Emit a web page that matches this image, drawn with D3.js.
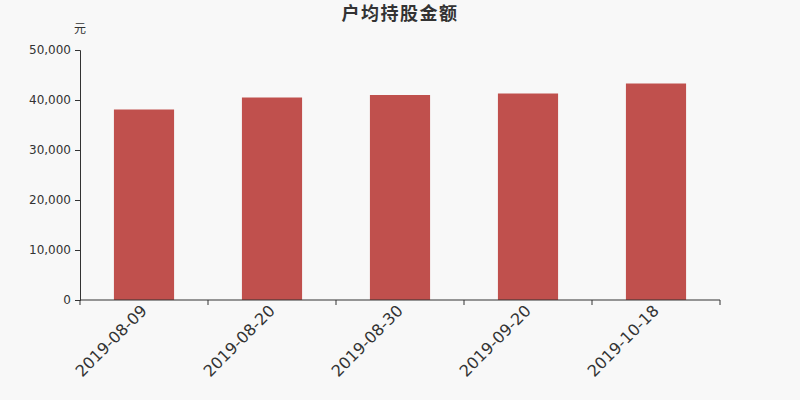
<!DOCTYPE html>
<html>
<head>
<meta charset="utf-8">
<script src="https://cdn.jsdelivr.net/npm/d3@7/dist/d3.min.js"></script>
<style>
  body { margin: 0; background: #f8f8f8; }
  text { font-family: "DejaVu Sans", "Noto Sans CJK SC", sans-serif; }
</style>
</head>
<body>
<div id="chart"></div>
<script>
var categories = ['2019-08-09', '2019-08-20', '2019-08-30', '2019-09-20', '2019-10-18'];
var values = [38100, 40500, 41000, 41300, 43300];
var yTicks = [0, 10000, 20000, 30000, 40000, 50000];

var width = 800, height = 400;
var margin = { top: 50, right: 80, bottom: 100, left: 80 };

var svg = d3.select('#chart').append('svg')
    .attr('width', width)
    .attr('height', height);

svg.append('rect').attr('width', width).attr('height', height).attr('fill', '#f8f8f8');

var x = d3.scaleBand()
    .domain(categories)
    .range([margin.left, width - margin.right])
    .paddingInner(0.53)
    .paddingOuter(0.265);

var xTicks = d3.scaleBand().domain(categories).range([margin.left, width - margin.right]);

var y = d3.scaleLinear()
    .domain([0, 50000])
    .range([height - margin.bottom, margin.top]);

var fmt = d3.format(',');

// bars
svg.append('g').selectAll('rect')
    .data(values)
    .enter().append('rect')
    .attr('x', function (d, i) { return x(categories[i]); })
    .attr('y', function (d) { return y(d); })
    .attr('width', x.bandwidth())
    .attr('height', function (d) { return y(0) - y(d); })
    .attr('fill', '#c0504d');

// y axis
var yAxis = svg.append('g')
    .attr('transform', 'translate(' + margin.left + ',0)')
    .call(d3.axisLeft(y).tickValues(yTicks).tickFormat(fmt).tickSize(5).tickPadding(4));
yAxis.select('.domain').attr('stroke', '#333');
yAxis.selectAll('.tick line').attr('stroke', '#333');
yAxis.selectAll('text').attr('fill', '#333').style('font-size', '12px');

// x axis
var xAxis = svg.append('g')
    .attr('transform', 'translate(0,' + y(0) + ')');
xAxis.append('line')
    .attr('x1', margin.left).attr('x2', width - margin.right)
    .attr('stroke', '#333');
var edges = categories.map(function (c) { return xTicks(c); }).concat([width - margin.right]);
xAxis.selectAll('line.tk')
    .data(edges)
    .enter().append('line')
    .attr('class', 'tk')
    .attr('x1', function (d) { return d; }).attr('x2', function (d) { return d; })
    .attr('y1', 0).attr('y2', 5)
    .attr('stroke', '#333');
xAxis.selectAll('text')
    .data(categories)
    .enter().append('text')
    .attr('transform', function (d) {
        return 'translate(' + (xTicks(d) + xTicks.bandwidth() / 2 - 4) + ',4) rotate(-45)';
    })
    .attr('text-anchor', 'end')
    .attr('dy', '0.7em')
    .attr('fill', '#333')
    .style('font-size', '16px')
    .text(function (d) { return d; });

// title and unit
svg.append('text')
    .attr('x', width / 2).attr('y', 20)
    .attr('text-anchor', 'middle')
    .attr('fill', '#333')
    .style('font-size', '18px')
    .style('letter-spacing', '1.5px')
    .style('font-weight', 'bold')
    .text('户均持股金额');

svg.append('text')
    .attr('x', 80).attr('y', 33)
    .attr('text-anchor', 'middle')
    .attr('fill', '#333')
    .style('font-size', '12px')
    .text('元');
</script>
</body>
</html>
